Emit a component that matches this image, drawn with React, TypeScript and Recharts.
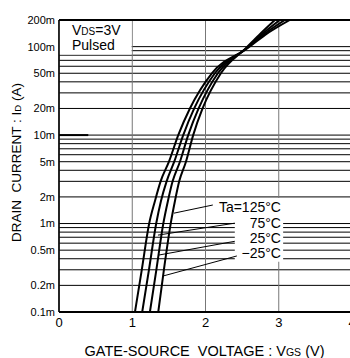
import React from 'react';
import {
  LineChart,
  Line,
  XAxis,
  YAxis,
  CartesianGrid,
  ReferenceLine,
  ReferenceArea,
  ReferenceDot,
} from 'recharts';

// drain current levels where the curves were read (A)
const currents = [0.0001, 0.0003, 0.001, 0.0018, 0.003, 0.005, 0.01, 0.02, 0.05, 0.096, 0.135, 0.2];

// gate-source voltage per temperature at those currents (V)
const vgs125 = [1.037, 1.13, 1.231, 1.31, 1.387, 1.501, 1.628, 1.787, 2.087, 2.572, 2.81, 3.151];
const vgs75 = [1.136, 1.228, 1.327, 1.392, 1.469, 1.573, 1.696, 1.846, 2.128, 2.565, 2.783, 3.083];
const vgs25 = [1.241, 1.329, 1.424, 1.487, 1.551, 1.651, 1.764, 1.906, 2.169, 2.558, 2.756, 3.015];
const vgsM25 = [1.355, 1.432, 1.525, 1.583, 1.641, 1.733, 1.832, 1.96, 2.21, 2.551, 2.729, 2.947];

const xTicks = [0, 1, 2, 3, 4];

const yGridValues = [
  0.0001, 0.0002, 0.0003, 0.0004, 0.0005, 0.0006, 0.0007, 0.0008, 0.0009,
  0.001, 0.002, 0.003, 0.004, 0.005, 0.006, 0.007, 0.008, 0.009,
  0.01, 0.02, 0.03, 0.04, 0.05, 0.06, 0.07, 0.08, 0.09,
  0.1, 0.2,
];
const yTickLabels = [
  '0.1m', '0.2m', '', '', '0.5m', '', '', '', '',
  '1m', '2m', '', '', '5m', '', '', '', '',
  '10m', '20m', '', '', '50m', '', '', '', '',
  '100m', '200m',
];

// temperature labels and their leader lines (data units)
const tempLabels = [
  { text: 'Ta=125°C', i: 0.001536 },
  { text: '75°C', i: 0.001026 },
  { text: '25°C', i: 0.000691 },
  { text: '−25°C', i: 0.000464 },
];
const leaderLines = [
  { v1: 1.569, i1: 0.00131, v2: 2.1, i2: 0.00162 },
  { v1: 1.351, i1: 0.00074, v2: 2.4, i2: 0.00101 },
  { v1: 1.36, i1: 0.00044, v2: 2.4, i2: 0.00063 },
  { v1: 1.419, i1: 0.000255, v2: 2.428, i2: 0.00043 },
];

const toPoints = (vgs: number[]) => vgs.map((v, k) => ({ v, i: currents[k] }));

const series = [
  { name: '125', data: toPoints(vgs125) },
  { name: '75', data: toPoints(vgs75) },
  { name: '25', data: toPoints(vgs25) },
  { name: '-25', data: toPoints(vgsM25) },
];

const yFormatter = (value: number) => {
  const k = yGridValues.indexOf(value);
  return k >= 0 ? yTickLabels[k] : '';
};

const YLabel = () => (
  <text
    x={16}
    y={162.5}
    transform="rotate(-90 16 162.5)"
    textAnchor="middle"
    dy="0.36em"
    fontSize={13.5}
    fill="#000"
    style={{ whiteSpace: 'pre' }}
  >
    {'DRAIN  CURRENT : I'}
    <tspan fontSize={9.5}>D</tspan>
    {' (A)'}
  </text>
);

const XLabel = () => (
  <text x={204.5} y={355.5} textAnchor="middle" fontSize={14.5} fill="#000" style={{ whiteSpace: 'pre' }}>
    {'GATE-SOURCE  VOLTAGE : V'}
    <tspan fontSize={10.5}>GS</tspan>
    {' (V)'}
  </text>
);

const ConditionLabel = () => (
  <g>
    <text x={72} y={35} fontSize={14} fill="#000">
      {'V'}
      <tspan fontSize={10}>DS</tspan>
      {'=3V'}
    </text>
    <text x={72} y={50} fontSize={14} fill="#000">
      Pulsed
    </text>
  </g>
);

const App: React.FC = () => {
  return (
    <div
      style={{
        position: 'absolute',
        left: 0,
        top: 0,
        width: 350,
        height: 358,
        overflow: 'hidden',
        background: '#fff',
        fontFamily: 'Liberation Sans, Arial, sans-serif',
      }}
    >
      <LineChart width={360} height={358} margin={{ top: 20, right: 8, bottom: 0, left: 0 }}>
        <CartesianGrid horizontal={true} vertical={false} stroke="#000" strokeWidth={1} />
        <CartesianGrid horizontal={false} vertical={true} stroke="#777" strokeWidth={1} />
        <XAxis
          type="number"
          dataKey="v"
          domain={[0, 4]}
          ticks={xTicks}
          allowDataOverflow
          height={46}
          tickLine={false}
          tickSize={6}
          tickMargin={0}
          interval={0}
          axisLine={{ stroke: '#000', strokeWidth: 2 }}
          tick={{ fill: '#000', fontSize: 13 }}
          label={XLabel}
        />
        <YAxis
          type="number"
          scale="log"
          domain={[0.0001, 0.2]}
          ticks={yGridValues}
          allowDataOverflow
          width={59}
          tickLine={false}
          tickSize={4}
          tickMargin={0}
          interval={0}
          tickFormatter={yFormatter}
          axisLine={{ stroke: '#000', strokeWidth: 1.6 }}
          tick={{ fill: '#000', fontSize: 11 }}
          label={YLabel}
        />
        <ReferenceArea x1={0} x2={0.992} y1={0.0815} y2={0.2} fill="#fff" fillOpacity={1} stroke="none" label={ConditionLabel} />
        <ReferenceArea x1={2.07} x2={3.06} y1={0.00128} y2={0.00194} fill="#fff" fillOpacity={1} stroke="none" />
        <ReferenceArea x1={2.4} x2={3.06} y1={0.00037} y2={0.00128} fill="#fff" fillOpacity={1} stroke="none" />
        <ReferenceLine y={0.2} stroke="#000" strokeWidth={2} />
        <ReferenceLine
          segment={[
            { x: 0, y: 0.01 },
            { x: 0.4, y: 0.01 },
          ]}
          stroke="#000"
          strokeWidth={2}
        />
        {leaderLines.map((l, k) => (
          <ReferenceLine
            key={`leader-${k}`}
            segment={[
              { x: l.v1, y: l.i1 },
              { x: l.v2, y: l.i2 },
            ]}
            stroke="#000"
            strokeWidth={1}
          />
        ))}
        {series.map((s) => (
          <Line
            key={s.name}
            name={s.name}
            data={s.data}
            dataKey="i"
            type="monotone"
            stroke="#000"
            strokeWidth={2}
            dot={false}
            activeDot={false}
            isAnimationActive={false}
          />
        ))}
        {tempLabels.map((t) => (
          <ReferenceDot
            key={t.text}
            x={3.03}
            y={t.i}
            r={0}
            fill="none"
            stroke="none"
            label={{ value: t.text, position: 'left', offset: 0, fontSize: 14, fill: '#000' }}
          />
        ))}
      </LineChart>
    </div>
  );
};

export default App;
